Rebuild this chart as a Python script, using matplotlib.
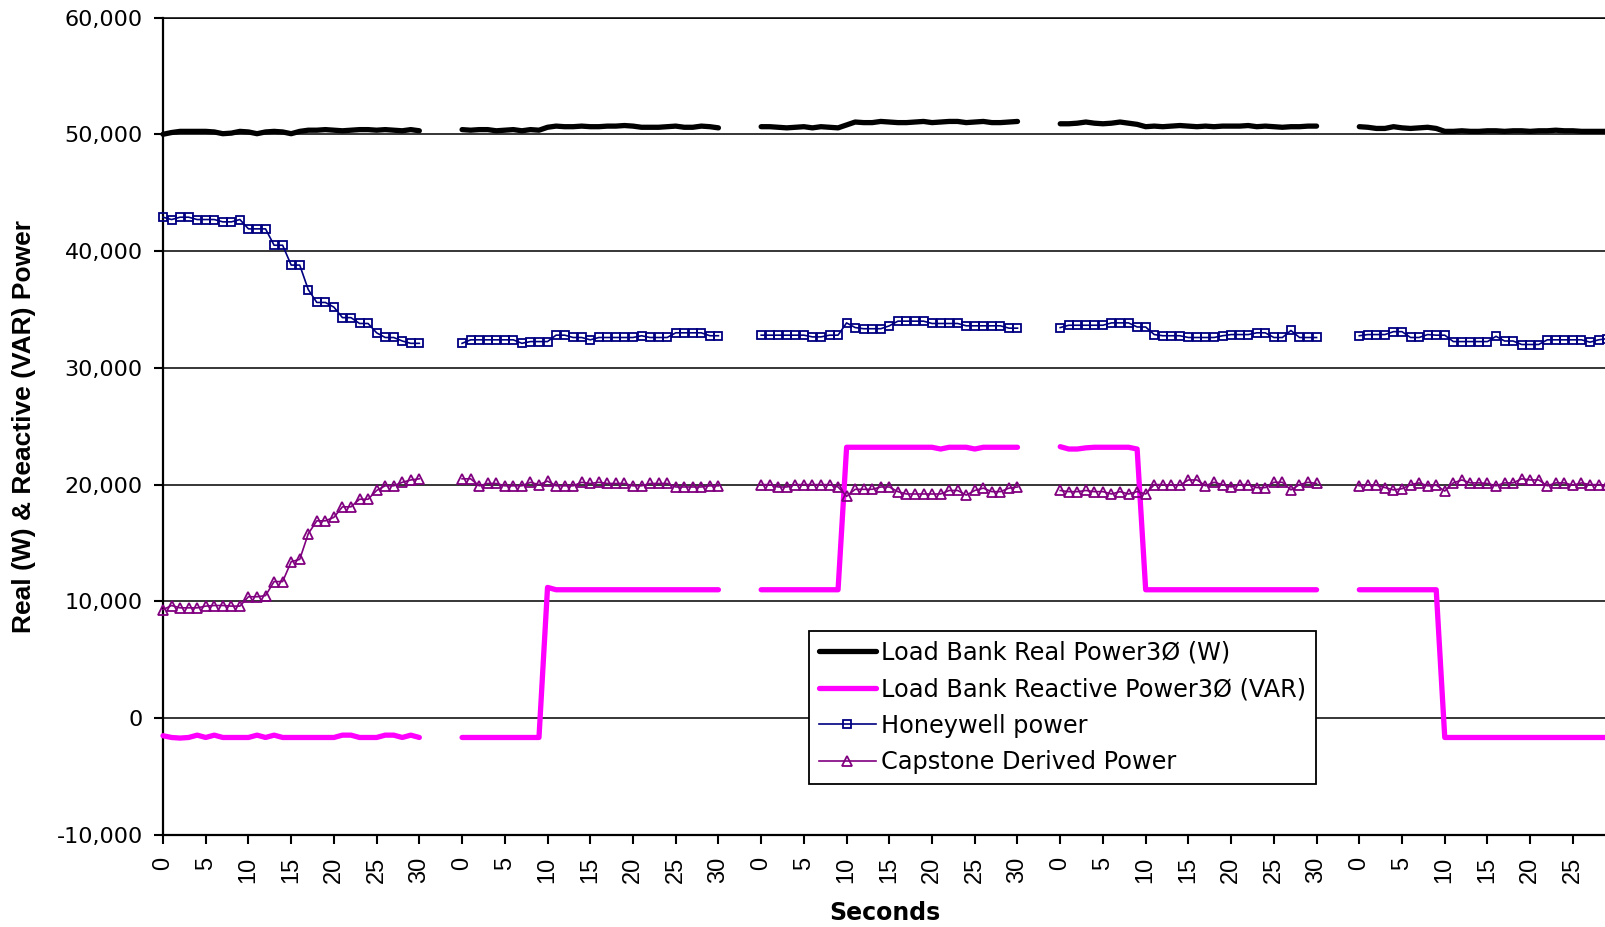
import numpy as np
import matplotlib
matplotlib.use("Agg")
import matplotlib.pyplot as plt

plt.rcParams['font.family'] = ['DejaVu Sans']
plt.rcParams['axes.unicode_minus'] = False

# ---- data: 5 test runs, 0..30 s each ----
seconds = list(range(0, 31))
y_ticks = [-10000, 0, 10000, 20000, 30000, 40000, 50000, 60000]
y_tick_labels = ['-10,000', '0', '10,000', '20,000', '30,000', '40,000', '50,000', '60,000']

real_power = [
    [50000, 50150, 50250, 50250, 50250, 50250, 50200, 50050, 50100, 50250, 50200, 50050, 50200, 50250, 50200, 50050,
     50250, 50350, 50350, 50400, 50350, 50300, 50350, 50400, 50400, 50350, 50400, 50350, 50300, 50400, 50300],
    [50400, 50350, 50400, 50400, 50300, 50350, 50400, 50300, 50400, 50350, 50600, 50700, 50650, 50650, 50700, 50650,
     50650, 50700, 50700, 50750, 50700, 50600, 50600, 50600, 50650, 50700, 50600, 50600, 50700, 50650, 50550],
    [50650, 50650, 50600, 50550, 50600, 50650, 50550, 50650, 50600, 50550, 50800, 51050, 51000, 51000, 51100, 51050,
     51000, 51000, 51050, 51100, 51000, 51050, 51100, 51100, 51000, 51050, 51100, 51000, 51000, 51050, 51100],
    [50900, 50900, 50950, 51050, 50950, 50900, 50950, 51050, 50950, 50850, 50650, 50700, 50650, 50700, 50750, 50700,
     50650, 50700, 50650, 50700, 50700, 50700, 50750, 50650, 50700, 50650, 50600, 50650, 50650, 50700, 50700],
    [50650, 50600, 50500, 50500, 50650, 50550, 50500, 50550, 50600, 50500, 50250, 50250, 50300, 50250, 50250, 50300,
     50300, 50250, 50300, 50300, 50250, 50300, 50300, 50350, 50300, 50300, 50250, 50250, 50250, 50250, 50250],
]

reactive_power = [
    [-1500, -1650, -1700, -1650, -1450, -1650, -1450, -1650, -1650, -1650, -1650, -1450, -1650, -1450, -1650, -1650,
     -1650, -1650, -1650, -1650, -1650, -1450, -1450, -1650, -1650, -1650, -1450, -1450, -1650, -1450, -1650],
    [-1650, -1650, -1650, -1650, -1650, -1650, -1650, -1650, -1650, -1650, 11200, 11000, 11000, 11000, 11000, 11000,
     11000, 11000, 11000, 11000, 11000, 11000, 11000, 11000, 11000, 11000, 11000, 11000, 11000, 11000, 11000],
    [11000, 11000, 11000, 11000, 11000, 11000, 11000, 11000, 11000, 11000, 23200, 23200, 23200, 23200, 23200, 23200,
     23200, 23200, 23200, 23200, 23200, 23050, 23200, 23200, 23200, 23050, 23200, 23200, 23200, 23200, 23200],
    [23250, 23050, 23050, 23150, 23200, 23200, 23200, 23200, 23200, 23050, 11000, 11000, 11000, 11000, 11000, 11000,
     11000, 11000, 11000, 11000, 11000, 11000, 11000, 11000, 11000, 11000, 11000, 11000, 11000, 11000, 11000],
    [11000, 11000, 11000, 11000, 11000, 11000, 11000, 11000, 11000, 11000, -1650, -1650, -1650, -1650, -1650, -1650,
     -1650, -1650, -1650, -1650, -1650, -1650, -1650, -1650, -1650, -1650, -1650, -1650, -1650, -1650, -1650],
]

honeywell_power = [
    [42900, 42700, 42900, 42900, 42700, 42700, 42700, 42500, 42500, 42700, 41900, 41900, 41900, 40500, 40500, 38800,
     38800, 36700, 35600, 35600, 35200, 34300, 34300, 33800, 33800, 33000, 32600, 32600, 32300, 32100, 32100],
    [32100, 32400, 32400, 32400, 32400, 32400, 32400, 32100, 32250, 32250, 32250, 32800, 32800, 32600, 32600, 32400,
     32600, 32600, 32600, 32600, 32600, 32750, 32600, 32600, 32600, 33000, 33000, 33000, 33000, 32750, 32750],
    [32800, 32800, 32800, 32800, 32800, 32800, 32650, 32650, 32800, 32800, 33850, 33450, 33350, 33350, 33350, 33600,
     34000, 34000, 34000, 34000, 33800, 33800, 33800, 33800, 33600, 33600, 33600, 33600, 33600, 33400, 33400],
    [33450, 33650, 33650, 33650, 33650, 33650, 33850, 33850, 33850, 33500, 33500, 32850, 32750, 32750, 32750, 32600,
     32600, 32600, 32600, 32750, 32850, 32850, 32850, 33000, 33000, 32600, 32600, 33200, 32600, 32600, 32600],
    [32750, 32850, 32850, 32850, 33100, 33100, 32600, 32600, 32850, 32800, 32800, 32250, 32250, 32250, 32250, 32250,
     32700, 32300, 32300, 32000, 32000, 32000, 32400, 32400, 32400, 32400, 32400, 32200, 32400, 32500, 32500],
]

capstone_power = [
    [9300, 9650, 9450, 9450, 9450, 9600, 9650, 9650, 9600, 9600, 10400, 10400, 10500, 11700, 11700, 13400,
     13600, 15800, 16900, 16900, 17200, 18100, 18100, 18750, 18750, 19500, 19900, 19900, 20200, 20400, 20500],
    [20500, 20500, 19900, 20100, 20100, 19900, 19900, 19900, 20200, 20000, 20300, 19900, 19900, 19900, 20200, 20100,
     20200, 20100, 20100, 20100, 19900, 19900, 20100, 20100, 20100, 19800, 19800, 19800, 19800, 19900, 19900],
    [20000, 20000, 19800, 19800, 20000, 20000, 20000, 20000, 20000, 19800, 19000, 19600, 19600, 19600, 19800, 19800,
     19400, 19200, 19200, 19200, 19200, 19200, 19500, 19500, 19100, 19500, 19700, 19400, 19400, 19700, 19800],
    [19500, 19400, 19400, 19500, 19400, 19400, 19200, 19400, 19200, 19400, 19200, 20000, 20000, 19950, 19950, 20400,
     20400, 19900, 20200, 20000, 19800, 20000, 20000, 19750, 19750, 20200, 20200, 19550, 20000, 20200, 20100],
    [19900, 19950, 19950, 19750, 19550, 19650, 20000, 20150, 19900, 19950, 19450, 20150, 20400, 20150, 20150, 20100,
     19900, 20150, 20150, 20500, 20400, 20400, 19900, 20150, 20150, 19950, 20150, 20000, 20000, 19950, 19950],
]

series_names = ['Load Bank Real Power3Ø (W)', 'Load Bank Reactive Power3Ø (VAR)',
                'Honeywell power', 'Capstone Derived Power']

# categories: each run is 31 categories followed by 4 blank categories
GAP = 4
SEG_STEP = len(seconds) + GAP


def flatten(segs):
    xs, ys = [], []
    for k, seg in enumerate(segs):
        for s, v in zip(seconds, seg):
            xs.append(k * SEG_STEP + s)
            ys.append(v)
        xs.append(k * SEG_STEP + len(seconds))
        ys.append(np.nan)
    return np.array(xs, float), np.array(ys, float)


W, H = 1606, 927
fig = plt.figure(figsize=(W / 100, H / 100), dpi=100)
ax = fig.add_axes([163 / W, 92 / H, (W - 163) / W, (835 - 17.5) / H])

x, y = flatten(real_power)
ax.plot(x, y, color='black', lw=3.8, solid_capstyle='round', solid_joinstyle='round',
        label=series_names[0], clip_on=False, zorder=3)
x, y = flatten(reactive_power)
ax.plot(x, y, color='#FF00FF', lw=3.8, solid_capstyle='round', solid_joinstyle='round',
        label=series_names[1], clip_on=False, zorder=4)
x, y = flatten(honeywell_power)
ax.plot(x, y, color='#000080', lw=1.2, marker='s', ms=6.3, mfc='none', mec='#000080', mew=1.3,
        label=series_names[2], clip_on=False, zorder=5)
x, y = flatten(capstone_power)
ax.plot(x, y, color='#800080', lw=1.2, marker='^', ms=6.8, mfc='none', mec='#800080', mew=1.3,
        label=series_names[3], clip_on=False, zorder=6)

x_max = (W - 163) / 8.545
xt = np.arange(0, x_max, 5)
ax.set_xticks(xt)
ax.set_xticklabels([str(int(t) % SEG_STEP) for t in xt], rotation=90,
                   family='Liberation Sans', fontsize=17)
ax.set_xlim(0, x_max)

ax.set_yticks(y_ticks)
ax.set_yticklabels(y_tick_labels, fontsize=16)
ax.set_ylim(-10000, 60000)

ax.grid(axis='y', color='black', lw=1.1, zorder=0)
ax.set_axisbelow(True)
ax.spines['right'].set_visible(False)
ax.spines['top'].set_linewidth(1.1)
ax.spines['left'].set_linewidth(1.6)
ax.spines['bottom'].set_linewidth(1.6)
ax.tick_params(axis='both', direction='out', length=6.5, width=1.5, color='black')
ax.tick_params(axis='x', pad=9)
ax.tick_params(axis='y', pad=8)

ax.set_ylabel('Real (W) & Reactive (VAR) Power', fontsize=19, fontweight='bold',
              family='Liberation Sans', labelpad=15)
ax.set_xlabel('Seconds', fontsize=17, fontweight='bold', labelpad=13)

leg = ax.legend(loc='upper left', bbox_to_anchor=((809 - 163) / (W - 163), (835 - 631) / 817.5,
                                                   (1316 - 809) / (W - 163), 0.0001),
                mode='expand', fontsize=17.3, frameon=True, fancybox=False, framealpha=1,
                edgecolor='black', handlelength=2.4, handletextpad=0.2, labelspacing=0.52,
                borderpad=0.4, borderaxespad=0)
leg.get_frame().set_linewidth(1.3)
leg.set_zorder(10)

fig.savefig('out.png', dpi=100)
